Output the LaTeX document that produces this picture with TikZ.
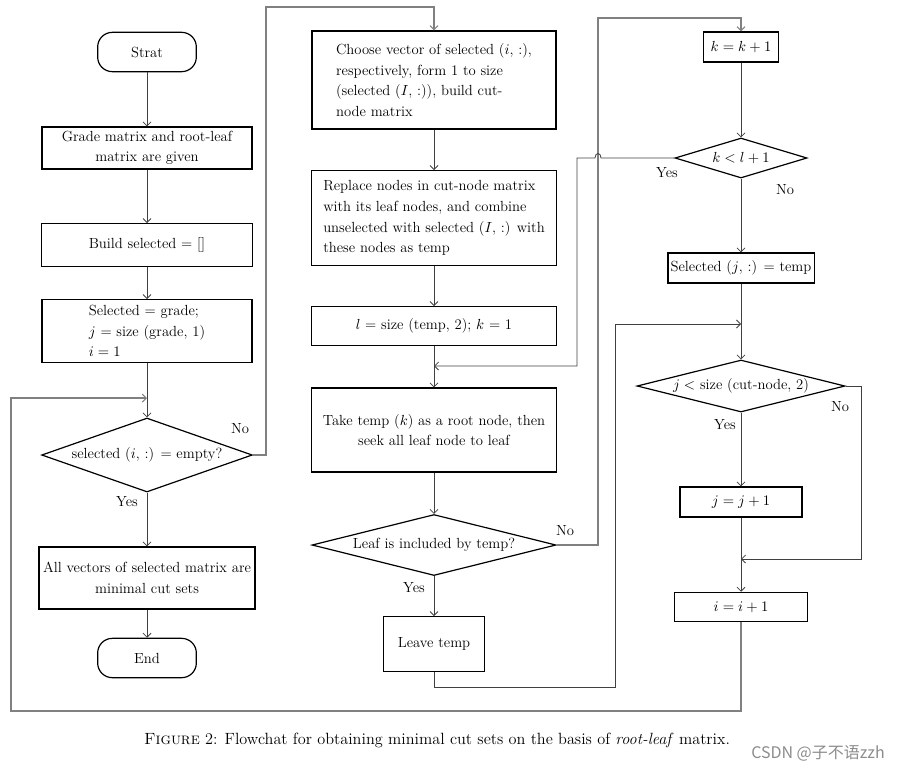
\documentclass[tikz,border=0pt]{standalone}
\usepackage{tikz}
\usepackage{amsmath}
\usepackage{fontspec}
\newfontfamily\cjkfont{Noto Sans CJK SC}
\usetikzlibrary{shapes.geometric, arrows.meta}
\newcommand{\flowfont}{\fontsize{11}{15.5}\selectfont}
\tikzset{tm/.style = {rectangle, rounded corners=11pt, line width=0.9pt, minimum width=74pt, minimum height=29.5pt, font=\flowfont, draw},
         pr/.style = {rectangle, line width=0.9pt, inner sep=2pt, align=center, font=\flowfont, draw},
         dc/.style = {diamond, line width=0.9pt, inner sep=0pt, font=\flowfont, draw},
         lb/.style = {inner sep=0pt, font=\flowfont},
         ln/.style = {draw=black!75, line width=0.6pt},
         lp/.style = {draw=black!50, line width=0.8pt}}

\begin{document}
\begin{tikzpicture}[x=0.75pt, y=-0.75pt, >={Straight Barb[length=3pt, width=6pt]}]
    \useasboundingbox (0,0) rectangle (898,772);
    % left column
    \node[tm] (st) at (147,52) {Strat};
    \node[pr, minimum width=157.5pt, minimum height=31.5pt] (gm) at (147,148) {Grade matrix and root-leaf\\matrix are given};
    \node[pr, minimum width=158pt, minimum height=32pt] (bs) at (147,245) {Build selected = []};
    \node[pr, minimum width=157.5pt, minimum height=47pt, align=left] (sg) at (147,331) {Selected = grade;\\$j$ = size (grade, 1)\\$i = 1$};
    \node[dc, aspect=2.85, minimum width=158pt, minimum height=55.5pt] (d1) at (147,455) {selected ($i$, :) = empty?};
    \node[pr, minimum width=162pt, minimum height=46.5pt] (av) at (147,578) {All vectors of selected matrix are\\minimal cut sets};
    \node[tm] (en) at (147,658) {End};
    % middle column
    \node[pr, minimum width=183pt, minimum height=73.5pt, align=left] (ch) at (434,80) {Choose vector of selected ($i$, :),\\respectively, form 1 to size\\(selected ($I$, :)), build cut-\\node matrix};
    \node[pr, minimum width=184pt, minimum height=71pt, align=left] (rp) at (434,218) {Replace nodes in cut-node matrix\\with its leaf nodes, and combine\\unselected with selected ($I$, :) with\\these nodes as temp};
    \node[pr, minimum width=184pt, minimum height=29pt] (ls) at (434,326) {$l$ = size (temp, 2); $k$ = 1};
    \node[pr, minimum width=184pt, minimum height=63pt] (tt) at (434,430) {Take temp ($k$) as a root node, then\\seek all leaf node to leaf};
    \node[dc, aspect=4, minimum width=183pt, minimum height=45.75pt] (d2) at (434,545) {Leaf is included by temp?};
    \node[pr, minimum width=76pt, minimum height=41pt] (lv) at (434,644) {Leave temp};
    % right column
    \node[pr, minimum width=56pt, minimum height=22.5pt] (kk) at (741,47) {$k = k + 1$};
    \node[dc, aspect=3.3, minimum width=99pt, minimum height=30pt] (kd) at (741,158) {$k < l + 1$};
    \node[pr, minimum width=108pt, minimum height=22.5pt] (sj) at (741,268) {Selected ($j$, :) = temp};
    \node[dc, aspect=4, minimum width=156pt, minimum height=39pt] (d3) at (741,386) {$j <$ size (cut-node, 2)};
    \node[pr, minimum width=91.5pt, minimum height=22.5pt] (jj) at (741,502) {$j = j + 1$};
    \node[pr, minimum width=100pt, minimum height=22pt] (ii) at (741,607) {$i = i + 1$};
    % turning points
    \coordinate (j1) at (147,398); \coordinate (c1) at (11,711);
    \coordinate (c3) at (266,7);   \coordinate (j4) at (434,366);
    \coordinate (c4) at (598,18);  \coordinate (c5) at (615,687);
    \coordinate (j2) at (741,324); \coordinate (c6) at (861,559);
    \coordinate (j3) at (741,559);
    \coordinate (h1) at (601,158); \coordinate (h2) at (595,158);
    \coordinate (c8) at (577,158);
    % labels
    \node[lb] (n1) at (240,429) {No};  \node[lb] (y1) at (127,502) {Yes};
    \node[lb] (n2) at (565,531) {No};  \node[lb] (y2) at (414,588) {Yes};
    \node[lb] (y3) at (667,173) {Yes}; \node[lb] (n3) at (785,190) {No};
    \node[lb] (n4) at (840,407) {No};  \node[lb] (y4) at (725,425) {Yes};
    % connectors
    \draw[->, ln] (st) -- (gm);
    \draw[->, ln] (gm) -- (bs);
    \draw[->, ln] (bs) -- (sg);
    \draw[->, ln] (sg) -- (d1);
    \draw[->, ln] (d1) -- (av);
    \draw[->, ln] (av) -- (en);
    \draw[->, lp] (d1.east) -| (c3) -| (ch.north);
    \draw[->, ln] (ch) -- (rp);
    \draw[->, ln] (rp) -- (ls);
    \draw[->, ln] (ls) -- (tt);
    \draw[->, ln] (tt) -- (d2);
    \draw[->, ln] (d2) -- (lv);
    \draw[->, lp] (d2.east) -| (c4) -| (kk.north);
    \draw[->, ln] (lv) |- (c5) |- (j2);
    \draw[->, ln] (kk) -- (kd);
    \draw[->, ln] (kd) -- (sj);
    \draw[->, ln] (kd.west) -- (h1) .. controls (601,152) and (595,152) .. (h2) -- (c8) |- (j4);
    \draw[->, ln] (sj) -- (d3);
    \draw[->, ln] (d3) -- (jj);
    \draw[->, ln] (jj) -- (ii);
    \draw[->, ln] (d3.east) -| (c6) -- (j3);
    \draw[->, lp] (ii) |- (c1) |- (j1);
    % caption
    \node[font=\fontsize{12.2}{14}\selectfont] (cap) at (437,740) {\textsc{Figure} 2: Flowchat for obtaining minimal cut sets on the basis of \textit{root-leaf} matrix.};
    \node[font=\cjkfont\fontsize{12}{14}\selectfont, text=black!45] (wm) at (818,753) {CSDN @子不语zzh};
\end{tikzpicture}
\end{document}
